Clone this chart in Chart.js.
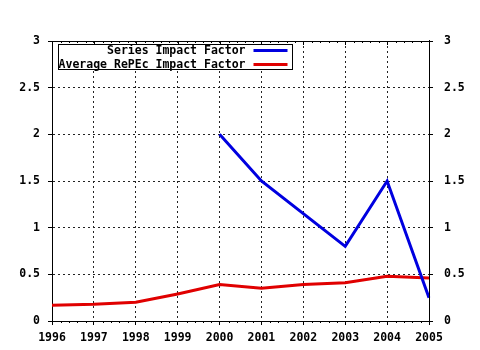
<!DOCTYPE html>
<html>
<head>
<meta charset="utf-8">
<script src="https://cdn.jsdelivr.net/npm/chart.js@4.4.1/dist/chart.umd.min.js"></script>
<style>
  html, body { margin: 0; padding: 0; background: #fff; }
  #wrap { width: 480px; height: 350px; position: relative; }
</style>
</head>
<body>
<div id="wrap"><canvas id="chart"></canvas></div>
<script>
  // data
  var YEARS = ["1996", "1997", "1998", "1999", "2000", "2001", "2002", "2003", "2004", "2005"];
  var SERIES_IF = [null, null, null, null, 2.0, 1.5, null, 0.8, 1.5, 0.25];
  var AVG_REPEC_IF = [0.17, 0.18, 0.20, 0.29, 0.39, 0.35, 0.39, 0.41, 0.48, 0.46];
  var Y_TICKS = [0, 0.5, 1, 1.5, 2, 2.5, 3];

  var BLUE = "#0000e0";
  var RED = "#e00000";
  var FONT = { family: "'DejaVu Sans Mono', 'Liberation Mono', monospace", size: 11.5, weight: "bold" };

  function yLabel(v) { return String(v); }

  // frame top line, minor x ticks, and the boxed legend
  var decor = {
    id: "decor",
    afterDatasetsDraw: function (chart) {
      var ctx = chart.ctx, a = chart.chartArea, x = chart.scales.x;
      ctx.save();
      ctx.strokeStyle = "#000";
      ctx.lineWidth = 1;
      ctx.setLineDash([]);
      ctx.beginPath();
      ctx.moveTo(a.left, Math.round(a.top) + 0.5);
      ctx.lineTo(a.right, Math.round(a.top) + 0.5);
      ctx.moveTo(Math.round(a.right) + 0.5, a.top - 1);
      ctx.lineTo(Math.round(a.right) + 0.5, a.bottom);
      for (var i = 0; i < YEARS.length; i++) {
        var px = Math.round(x.getPixelForValue(i)) + 0.5;
        ctx.moveTo(px, a.top);
        ctx.lineTo(px, a.top + 4);
        if (i < YEARS.length - 1) {
          var nx = x.getPixelForValue(i + 1);
          for (var k = 1; k < 5; k++) {
            var mx = Math.round(px + (nx - px) * k / 5) + 0.5;
            ctx.moveTo(mx, a.top);
            ctx.lineTo(mx, a.top + 2);
            ctx.moveTo(mx, a.bottom);
            ctx.lineTo(mx, a.bottom + 2);
          }
        }
      }
      ctx.stroke();

      // legend
      var bx = Math.round(a.left) + 6.5, by = Math.round(a.top) + 3.5, bw = 234, bh = 25;
      ctx.fillStyle = "#fff";
      ctx.fillRect(bx, by, bw, bh);
      ctx.strokeRect(bx, by, bw, bh);
      ctx.font = FONT.weight + " " + FONT.size + "px " + FONT.family;
      ctx.textAlign = "right";
      ctx.textBaseline = "middle";
      chart.data.datasets.forEach(function (ds, j) {
        var ry = by + 6 + j * 14;
        ctx.fillStyle = "#000";
        ctx.fillText(ds.label, bx + 187, ry + 0.5);
        ctx.strokeStyle = ds.borderColor;
        ctx.lineWidth = 3;
        ctx.beginPath();
        ctx.moveTo(bx + 195, ry);
        ctx.lineTo(bx + 229, ry);
        ctx.stroke();
      });
      ctx.restore();
    }
  };

  var gridOpts = {
    color: "#222",
    lineWidth: 1,
    tickColor: "#000",
    tickLength: 4,
    tickBorderDash: []
  };

  new Chart(document.getElementById("chart"), {
    type: "line",
    data: {
      labels: YEARS,
      datasets: [
        { label: "Series Impact Factor", data: SERIES_IF, borderColor: BLUE, backgroundColor: BLUE,
          borderWidth: 3, pointRadius: 0, tension: 0, spanGaps: true },
        { label: "Average RePEc Impact Factor", data: AVG_REPEC_IF, borderColor: RED, backgroundColor: RED,
          borderWidth: 3, pointRadius: 0, tension: 0 }
      ]
    },
    options: {
      responsive: true,
      maintainAspectRatio: false,
      animation: false,
      layout: { padding: { top: 41, left: 0, right: 0, bottom: 0 } },
      plugins: { legend: { display: false }, tooltip: { enabled: false } },
      scales: {
        x: {
          type: "category",
          offset: false,
          grid: gridOpts,
          border: { display: true, color: "#000", width: 1, dash: [2, 3] },
          ticks: { color: "#000", font: FONT, padding: 6, maxRotation: 0, autoSkip: false },
          afterFit: function (s) { s.height = 29; }
        },
        y: {
          position: "left",
          min: 0, max: 3,
          afterBuildTicks: function (s) { s.ticks = Y_TICKS.map(function (v) { return { value: v }; }); },
          grid: gridOpts,
          border: { display: true, color: "#000", width: 1, dash: [2, 3] },
          ticks: { color: "#000", font: FONT, padding: 8, callback: yLabel },
          afterFit: function (s) { s.width = 52; }
        },
        y2: {
          position: "right",
          min: 0, max: 3,
          afterBuildTicks: function (s) { s.ticks = Y_TICKS.map(function (v) { return { value: v }; }); },
          grid: Object.assign({}, gridOpts, { drawOnChartArea: false }),
          border: { display: true, color: "#000", width: 1 },
          ticks: { color: "#000", font: FONT, padding: 11, callback: yLabel },
          afterFit: function (s) { s.width = 51; }
        }
      }
    },
    plugins: [decor]
  });
</script>
</body>
</html>
